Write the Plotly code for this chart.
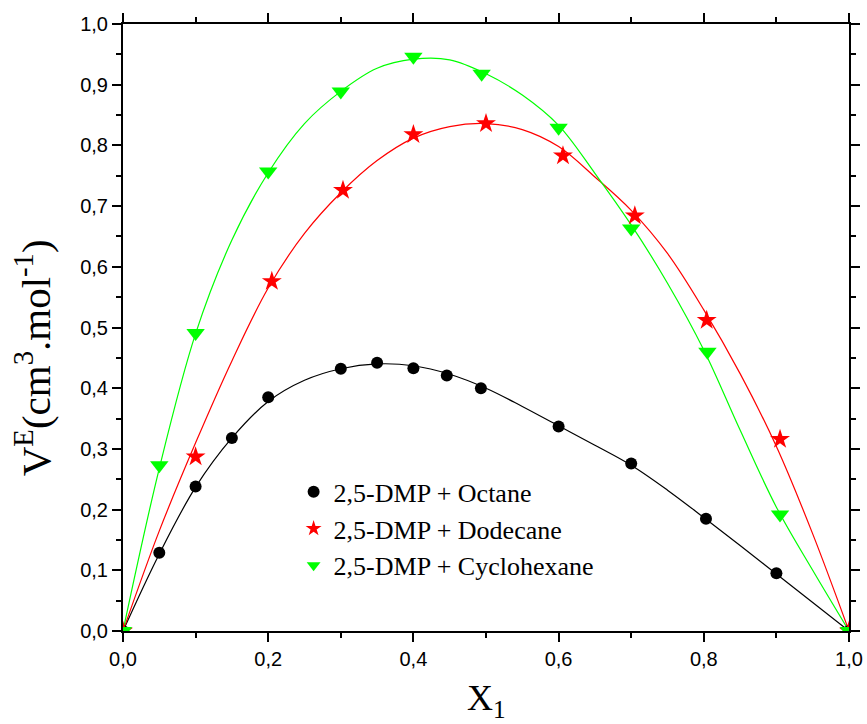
import plotly.graph_objects as go

# Experimental points
x_oct = [0.0, 0.05, 0.10, 0.15, 0.20, 0.30, 0.35, 0.40, 0.446, 0.493, 0.60, 0.70, 0.803, 0.90, 1.0]
v_oct = [0.0, 0.129, 0.238, 0.318, 0.385, 0.432, 0.442, 0.433, 0.421, 0.400, 0.337, 0.276, 0.185, 0.095, 0.0]

x_dod = [0.0, 0.10, 0.205, 0.303, 0.40, 0.50, 0.606, 0.705, 0.804, 0.905, 1.0]
v_dod = [0.0, 0.287, 0.576, 0.726, 0.818, 0.836, 0.783, 0.684, 0.512, 0.316, 0.0]

x_cyc = [0.0, 0.05, 0.10, 0.20, 0.30, 0.40, 0.494, 0.60, 0.70, 0.805, 0.905, 1.0]
v_cyc = [0.0, 0.273, 0.491, 0.757, 0.889, 0.946, 0.918, 0.829, 0.663, 0.460, 0.192, 0.0]

# Fitted curves
x_fit = [0.0, 0.05, 0.10, 0.15, 0.20, 0.25, 0.30, 0.35, 0.40, 0.45, 0.50,
         0.55, 0.60, 0.65, 0.70, 0.75, 0.80, 0.85, 0.90, 0.95, 1.0]
fit_oct = [0.0, 0.127, 0.237, 0.318, 0.378, 0.413, 0.432, 0.440, 0.437, 0.423, 0.400,
           0.370, 0.338, 0.306, 0.273, 0.232, 0.187, 0.141, 0.094, 0.047, 0.0]
fit_dod = [0.0, 0.165, 0.310, 0.445, 0.565, 0.655, 0.722, 0.775, 0.812, 0.831, 0.836,
           0.826, 0.798, 0.748, 0.693, 0.622, 0.529, 0.424, 0.304, 0.160, 0.0]
fit_cyc = [0.0, 0.268, 0.490, 0.644, 0.755, 0.836, 0.889, 0.927, 0.942, 0.941, 0.918,
           0.883, 0.833, 0.754, 0.669, 0.573, 0.463, 0.331, 0.204, 0.100, 0.0]

names = ["2,5-DMP + Octane", "2,5-DMP + Dodecane", "2,5-DMP + Cyclohexane"]
colors = ["#000000", "#FF0000", "#00FF00"]
symbols = ["circle", "star", "triangle-down"]
sizes = [12, 15, 16]

fig = go.Figure()
for fit, c in zip([fit_oct, fit_dod, fit_cyc], colors):
    fig.add_trace(go.Scatter(x=x_fit, y=fit, mode="lines", line=dict(color=c, width=1.2, shape="spline"),
                             showlegend=False, hoverinfo="skip"))
for xs, vs, n, c, s, sz in zip([x_oct, x_dod, x_cyc], [v_oct, v_dod, v_cyc], names, colors, symbols, sizes):
    fig.add_trace(go.Scatter(x=xs, y=vs, mode="markers", name=n,
                             marker=dict(color=c, symbol=s, size=sz, line=dict(width=0))))

axis_common = dict(
    showline=True, linecolor="black", linewidth=2, mirror="ticks",
    ticks="outside", ticklen=9, tickwidth=1.5, tickcolor="black",
    showgrid=False, zeroline=False, automargin=False,
    tickfont=dict(family="Liberation Sans, Arial", size=20, color="black"),
    tickformat=".1f",
)

fig.update_xaxes(range=[0, 1.0], dtick=0.2, tick0=0,
                 minor=dict(dtick=0.1, ticklen=5, ticks="outside", tickcolor="black", tickwidth=1.5),
                 **axis_common)
fig.update_yaxes(range=[0, 1.0], dtick=0.1, tick0=0,
                 minor=dict(dtick=0.05, ticklen=5, ticks="outside", tickcolor="black", tickwidth=1.5),
                 **axis_common)

fig.add_annotation(text="V<sup>E</sup>(cm<sup>3</sup>.mol<sup>-1</sup>)", xref="paper", yref="paper",
                   x=-0.1248, y=0.45, xanchor="center", yanchor="middle", textangle=-90,
                   showarrow=False, font=dict(family="Liberation Serif, Times New Roman", size=41, color="black"))
fig.add_annotation(text="X<sub>1</sub>", xref="paper", yref="paper",
                   x=0.5, y=-0.114, xanchor="center", yanchor="middle",
                   showarrow=False, font=dict(family="Liberation Serif, Times New Roman", size=36, color="black"))

fig.update_layout(
    width=867, height=724,
    margin=dict(l=123, r=18, t=24, b=93, autoexpand=False),
    paper_bgcolor="white", plot_bgcolor="white",
    separators=",.",
    legend=dict(x=0.235, y=0.268, xanchor="left", yanchor="top", bgcolor="rgba(0,0,0,0)",
                font=dict(family="Liberation Serif, Times New Roman", size=26, color="black"),
                itemsizing="constant", tracegroupgap=0),
)

fig.write_html(
    "out.html",
    config={"displayModeBar": False},
    post_script="document.body.style.margin='0';document.body.style.overflow='hidden';"
                "document.documentElement.style.overflow='hidden';",
)
